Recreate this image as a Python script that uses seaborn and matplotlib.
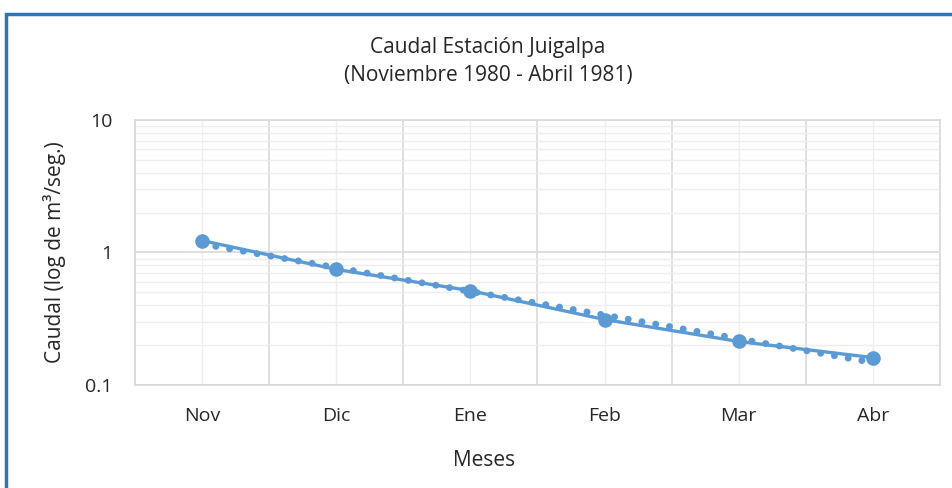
import numpy as np
import pandas as pd
import matplotlib.pyplot as plt
import seaborn as sns
from matplotlib.patches import Rectangle
from matplotlib.ticker import FixedLocator, NullFormatter


# ------------------------------------------ datos -------------------------------------------------
meses = ['Nov', 'Dic', 'Ene', 'Feb', 'Mar', 'Abr']
caudal = [1.23, 0.745, 0.515, 0.312, 0.213, 0.161]

COLOR = '#5B9BD5'
TXT = '#262626'
FS = 14

sns.set_theme(style='white')
plt.rcParams['font.family'] = ['Open Sans', 'DejaVu Sans']

df = pd.DataFrame({'mes': meses, 'caudal': caudal})
df['x'] = range(len(meses))

fig = plt.figure(figsize=(9.53, 4.88), dpi=100)
ax = fig.add_axes([135 / 953, 1 - 385 / 488, (940 - 135) / 953, (385 - 120) / 488])

# courbe principale
sns.lineplot(data=df, x='x', y='caudal', ax=ax, color=COLOR, linewidth=2.4,
             marker='o', markersize=10.5, markeredgewidth=0, zorder=4)

# tendance exponentielle (comme Excel), calculée à partir des données
coef = np.polyfit(df['x'], np.log(df['caudal']), 1)
xt = np.linspace(0, len(meses) - 1, 200)
ax.plot(xt, np.exp(coef[1] + coef[0] * xt), color=COLOR, linewidth=5,
        linestyle=(0, (0.01, 2.0)), dash_capstyle='round', zorder=3)

ax.set_yscale('log')
ax.set_ylim(0.1, 10)
ax.set_xlim(-0.5, len(meses) - 0.5)
ax.set_xticks(df['x'])
ax.set_xticklabels(meses)
ax.set_yticks([0.1, 1, 10])
ax.set_yticklabels(['0.1', '1', '10'])
ax.yaxis.set_minor_formatter(NullFormatter())
ax.xaxis.set_minor_locator(FixedLocator(np.arange(-0.5, len(meses), 1)))

ax.grid(True, which='major', axis='y', color='#d9d9d9', linewidth=1.2)
ax.grid(True, which='minor', axis='y', color='#eeeeee', linewidth=1.0)
ax.grid(True, which='major', axis='x', color='#eeeeee', linewidth=1.0)
ax.grid(True, which='minor', axis='x', color='#d9d9d9', linewidth=1.2)
ax.tick_params(which='both', length=0, labelsize=FS, colors=TXT)
ax.tick_params(axis='x', pad=16)
ax.tick_params(axis='y', pad=16)
for s in ax.spines.values():
    s.set_color('#d9d9d9')
    s.set_linewidth(1.2)
ax.set_axisbelow(True)

ax.set_xlabel('Meses', fontsize=15, color=TXT, labelpad=18, x=0.434)
ax.set_ylabel('Caudal (log de m³/seg.)', fontsize=15, color=TXT, labelpad=14)

fig.text(0.512, 1 - 47 / 488, 'Caudal Estación Juigalpa', ha='center', va='center',
         fontsize=15, color=TXT)
fig.text(0.512, 1 - 75 / 488, '(Noviembre 1980 - Abril 1981)', ha='center', va='center',
         fontsize=15, color=TXT)

# bordure bleue
fig.patches.append(Rectangle((6 / 953, -0.1), 1.2, 1 - 14 / 488 + 0.1, transform=fig.transFigure,
                             fill=False, edgecolor='#2E75B6', linewidth=2.5))

fig.savefig('out.png', dpi=100)
